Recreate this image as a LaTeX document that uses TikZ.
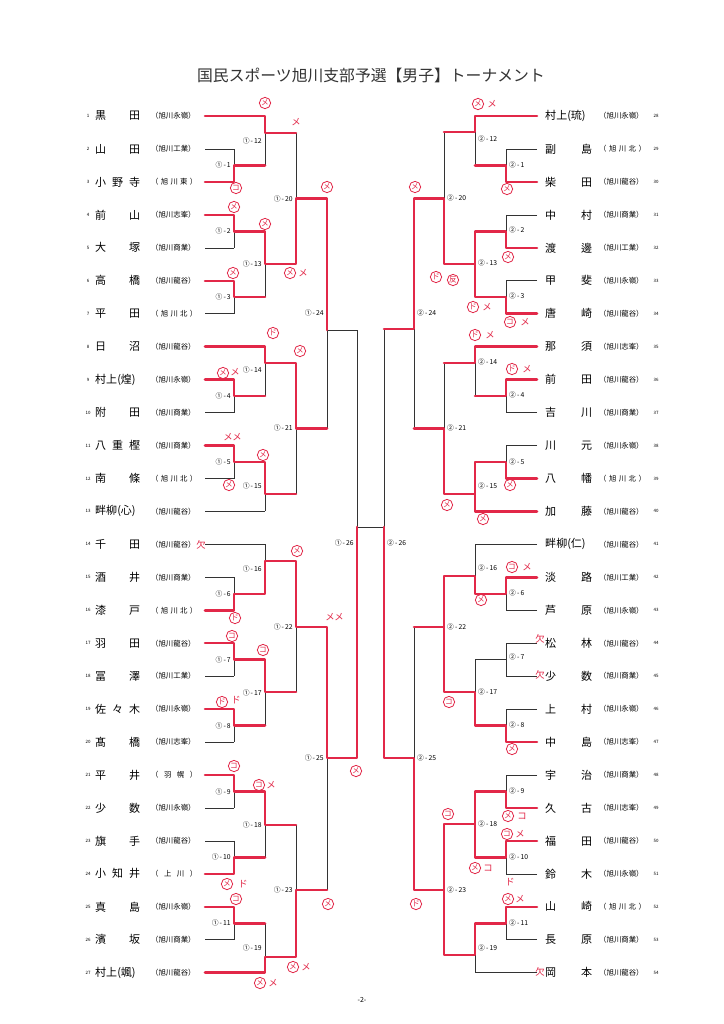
\documentclass[tikz,border=0pt]{standalone}
\usepackage{fontspec}
\setmainfont{Noto Sans CJK JP}
\usepackage{tikz}
\definecolor{pen}{RGB}{226,40,72}

\begin{document}
\begin{tikzpicture}[x=0.03cm, y=-0.03cm,
  wire/.style={line width=0.5pt, black!80},
  win/.style={line width=2.2pt, pen, line join=round, line cap=round},
  who/.style={font=\fontsize{9.4}{10}\selectfont, anchor=west, inner sep=0},
  school/.style={font=\fontsize{6.3}{7}\selectfont, anchor=west, inner sep=0},
  num/.style={font=\fontsize{3.8}{4}\selectfont, inner sep=0},
  game/.style={font=\fontsize{5.8}{6}\selectfont, inner sep=0},
  ring/.style={circle, draw=pen, line width=0.7pt, text=pen, minimum size=0.34cm, inner sep=0, font=\fontsize{6.5}{6.5}\selectfont},
  tick/.style={text=pen, inner sep=0, font=\fontsize{8}{8}\selectfont}]

\useasboundingbox (0,0) rectangle (724,1024);
\fill[white] (0,0) rectangle (724,1024);

% columns of the bracket
\def\lA{205}\def\lB{234}\def\lC{265}\def\lD{296}\def\lE{327}\def\lF{357}
\def\rA{537}\def\rB{506}\def\rC{475}\def\rD{444}\def\rE{414}\def\rF{384}

\node[font=\fontsize{13.5}{14}\selectfont, text=black!80] (title) at (371,75) {国民スポーツ旭川支部予選【男子】トーナメント};
\node[font=\fontsize{6}{6}\selectfont] (page) at (362,1000) {-2-};

% players, left
\foreach \nm/\sk [count=\i] in {黒\hfill 田/（旭川永嶺）, 山\hfill 田/（旭川工業）, 小\hfill 野\hfill 寺/（\hfill 旭\hfill 川\hfill 東\hfill ）, 前\hfill 山/（旭川志峯）, 大\hfill 塚/（旭川商業）, 高\hfill 橋/（旭川龍谷）, 平\hfill 田/（\hfill 旭\hfill 川\hfill 北\hfill ）, 日\hfill 沼/（旭川龍谷）, 村上(煌)/（旭川永嶺）, 附\hfill 田/（旭川商業）, 八\hfill 重\hfill 樫/（旭川商業）, 南\hfill 條/（\hfill 旭\hfill 川\hfill 北\hfill ）, 畔柳(心)/（旭川龍谷）, 千\hfill 田/（旭川龍谷）, 酒\hfill 井/（旭川商業）, 漆\hfill 戸/（\hfill 旭\hfill 川\hfill 北\hfill ）, 羽\hfill 田/（旭川龍谷）, 冨\hfill 澤/（旭川工業）, 佐\hfill 々\hfill 木/（旭川永嶺）, 髙\hfill 橋/（旭川志峯）, 平\hfill 井/（\hfill 羽\hfill 幌\hfill ）, 少\hfill 数/（旭川永嶺）, 旗\hfill 手/（旭川龍谷）, 小\hfill 知\hfill 井/（\hfill 上\hfill 川\hfill ）, 真\hfill 島/（旭川永嶺）, 濱\hfill 坂/（旭川商業）, 村上(颯)/（旭川龍谷）}{
  \node[num] (nl\i) at (88,{116+32.95*(\i-1)}) {\i};
  \node[who] (pl\i) at (95,{116+32.95*(\i-1)}) {\makebox[1.35cm][l]{\nm}};
  \node[school] (sl\i) at (151,{116+32.95*(\i-1)}) {\makebox[1.38cm][l]{\sk}};
}

% players, right
\foreach \nm/\sk [count=\i] in {村上(琉)/（旭川永嶺）, 副\hfill 島/（\hfill 旭\hfill 川\hfill 北\hfill ）, 柴\hfill 田/（旭川龍谷）, 中\hfill 村/（旭川商業）, 渡\hfill 邊/（旭川工業）, 甲\hfill 斐/（旭川永嶺）, 唐\hfill 崎/（旭川龍谷）, 那\hfill 須/（旭川志峯）, 前\hfill 田/（旭川龍谷）, 吉\hfill 川/（旭川商業）, 川\hfill 元/（旭川永嶺）, 八\hfill 幡/（\hfill 旭\hfill 川\hfill 北\hfill ）, 加\hfill 藤/（旭川龍谷）, 畔柳(仁)/（旭川龍谷）, 淡\hfill 路/（旭川工業）, 芦\hfill 原/（旭川永嶺）, 松\hfill 林/（旭川龍谷）, 少\hfill 数/（旭川商業）, 上\hfill 村/（旭川永嶺）, 中\hfill 島/（旭川志峯）, 宇\hfill 治/（旭川商業）, 久\hfill 古/（旭川志峯）, 福\hfill 田/（旭川龍谷）, 鈴\hfill 木/（旭川永嶺）, 山\hfill 崎/（\hfill 旭\hfill 川\hfill 北\hfill ）, 長\hfill 原/（旭川商業）, 岡\hfill 本/（旭川龍谷）}{
  \node[who] (pr\i) at (545,{116+32.95*(\i-1)}) {\makebox[1.41cm][l]{\nm}};
  \node[school] (sr\i) at (599,{116+32.95*(\i-1)}) {\makebox[1.4cm][l]{\sk}};
  \node[num] (nr\i) at (656,{116+32.95*(\i-1)}) {\the\numexpr\i+27\relax};
}

% entry lines
\foreach \i in {2,3,4,5,6,7,9,10,11,12,15,16,17,18,19,20,21,22,23,24,25,26}{
  \draw[wire] (\lA,{116+32.95*(\i-1)}) -- (\lB,{116+32.95*(\i-1)});
  \draw[wire] (\rA,{116+32.95*(\i-1)}) -- (\rB,{116+32.95*(\i-1)});
}
\foreach \i in {1,8,13,14,27}{
  \draw[wire] (\lA,{116+32.95*(\i-1)}) -- (\lC,{116+32.95*(\i-1)});
  \draw[wire] (\rA,{116+32.95*(\i-1)}) -- (\rC,{116+32.95*(\i-1)});
}

% matches: column / top / bottom / out / next column
\foreach \x/\a/\b/\o/\n in {\lB/149/181.9/165.4/\lC, \lB/214.9/247.8/231.3/\lC, \lB/280.8/313.7/297.2/\lC, \lB/379.6/412.6/396.1/\lC, \lB/445.5/478.5/462/\lC, \lB/577.3/610.3/593.8/\lC, \lB/643.2/676.2/659.7/\lC, \lB/709.1/742.1/725.6/\lC, \lB/775/808/791.5/\lC, \lB/840.9/873.9/857.4/\lC, \lB/906.8/939.8/923.3/\lC,
  \lC/116/165.4/133/\lD, \lC/231.3/297.2/264/\lD, \lC/346.7/396.1/363/\lD, \lC/462/511.4/494/\lD, \lC/544.4/593.8/561/\lD, \lC/659.7/725.6/692/\lD, \lC/791.5/857.4/825/\lD, \lC/923.3/972.7/957/\lD,
  \lD/133/264/198.5/\lE, \lD/363/494/428.5/\lE, \lD/561/692/627/\lE, \lD/825/957/890/\lE,
  \lE/198.5/428.5/330/\lF, \lE/627/890/758/\lF,
  \rB/149/181.9/165.4/\rC, \rB/214.9/247.8/231.3/\rC, \rB/280.8/313.7/297.2/\rC, \rB/379.6/412.6/396.1/\rC, \rB/445.5/478.5/462/\rC, \rB/577.3/610.3/593.8/\rC, \rB/643.2/676.2/659.7/\rC, \rB/709.1/742.1/725.6/\rC, \rB/775/808/791.5/\rC, \rB/840.9/873.9/857.4/\rC, \rB/906.8/939.8/923.3/\rC,
  \rC/116/165.4/132/\rD, \rC/231.3/297.2/264/\rD, \rC/346.7/396.1/363/\rD, \rC/462/511.4/494/\rD, \rC/544.4/593.8/576/\rD, \rC/659.7/725.6/692/\rD, \rC/791.5/857.4/824/\rD, \rC/923.3/972.7/955/\rD,
  \rD/132/264/198.5/\rE, \rD/363/494/428.5/\rE, \rD/576/692/627/\rE, \rD/824/955/890/\rE,
  \rE/198.5/428.5/329/\rF, \rE/627/890/758/\rF}{
  \draw[wire] (\x,\a) -- (\x,\b) (\x,\o) -- (\n,\o);
}
\draw[wire] (\lF,330) -- (\lF,758) (\rF,329) -- (\rF,758);
\draw[wire] (\lF,527) -- (\rF,527);

% match numbers
\foreach \x/\y/\t in {\lB/165.4/1, \lC/141/12, \lD/199/20, \lB/231.3/2, \lC/264/13, \lB/297.2/3, \lE/313/24, \lC/370/14, \lB/396/4, \lD/428/21, \lB/462/5, \lC/486/15, \lC/569/16, \lB/594/6, \lD/627/22, \lB/660/7, \lC/693/17, \lB/726/8, \lE/758/25, \lB/792/9, \lC/825/18, \lB/857/10, \lD/890/23, \lB/923/11, \lC/948/19, \lF/543/26}
  \node[game, anchor=east] (gl\t) at (\x-3,\y) {①\,-\,\t};
\foreach \x/\y/\t in {\rB/165/1, \rC/139/12, \rD/198/20, \rB/230/2, \rC/263/13, \rB/296/3, \rE/313/24, \rC/362/14, \rB/395/4, \rD/428/21, \rB/462/5, \rC/486/15, \rC/568/16, \rB/593/6, \rD/627/22, \rB/657/7, \rC/692/17, \rB/725/8, \rE/758/25, \rB/791/9, \rC/824/18, \rB/857/10, \rD/890/23, \rB/923/11, \rC/948/19, \rF/543/26}
  \node[game, anchor=west] (gr\t) at (\x+3,\y) {②\,-\,\t};

% winners, left
\draw[win] (\lA,116) -| (\lC,133) -- (\lD,133);
\draw[win] (\lA,181.9) -| (\lB,165.4) -- (\lC,165.4);
\draw[win] (\lA,214.9) -| (\lB,231.3) -| (\lC,264) -| (\lD,198.5) -| (\lE,330);
\draw[win] (\lA,280.8) -| (\lB,297.2) -- (\lC,297.2);
\draw[win] (\lA,346.7) -| (\lC,363) -| (\lD,428.5) -- (\lE,428.5);
\draw[win] (\lA,379.6) -| (\lB,396.1) -- (\lC,396.1);
\draw[win] (\lA,445.5) -| (\lB,462) -| (\lC,494) -- (\lD,494);
\draw[win] (\lA,610.3) -| (\lB,593.8) -| (\lC,561) -| (\lD,627) -| (\lE,758) -| (\lF,527);
\draw[win] (\lA,643.2) -| (\lB,659.7) -| (\lC,692) -- (\lD,692);
\draw[win] (\lA,709.1) -| (\lB,725.6) -- (\lC,725.6);
\draw[win] (\lA,775) -| (\lB,791.5) -| (\lC,825) -- (\lD,825);
\draw[win] (\lA,873.9) -| (\lB,857.4) -- (\lC,857.4);
\draw[win] (\lA,906.8) -| (\lB,923.3) -- (\lC,923.3);
\draw[win] (\lA,972.7) -| (\lC,957) -| (\lD,890) -- (\lE,890);

% winners, right
\draw[win] (\rA,116) -| (\rC,132) -- (\rD,132);
\draw[win] (\rA,181.9) -| (\rB,165.4) -- (\rC,165.4);
\draw[win] (\rA,247.8) -| (\rB,231.3) -| (\rC,264) -| (\rD,198.5) -| (\rE,329) -- (\rF,329);
\draw[win] (\rA,313.7) -| (\rB,297.2) -| (\rC,264);
\draw[win] (\rA,346.7) -| (\rC,363) -- (\rD,363);
\draw[win] (\rA,379.6) -| (\rB,396.1) -- (\rC,396.1);
\draw[win] (\rA,478.5) -| (\rB,462) -| (\rC,494);
\draw[win] (\rA,511.4) -| (\rC,494) -| (\rD,428.5) -- (\rE,428.5);
\draw[win] (\rA,577.3) -| (\rB,593.8) -| (\rC,576) -| (\rD,627) -- (\rE,627);
\draw[win] (\rA,742.1) -| (\rB,725.6) -| (\rC,692) -| (\rD,627);
\draw[win] (\rA,808) -| (\rB,791.5) -| (\rC,824) -| (\rD,890) -| (\rE,758) -| (\rF,527);
\draw[win] (\rA,840.9) -| (\rB,857.4) -| (\rC,824);
\draw[win] (\rA,906.8) -| (\rB,923.3) -| (\rC,955) -| (\rD,890);

% handwritten marks
\foreach \x/\y/\t/\s [count=\k] in {265/103/メ/ring, 296/122/メ/tick, 236/188/コ/ring, 234/207/メ/ring, 265/224/メ/ring, 290/273/メ/ring, 303/273/メ/tick, 233/273/メ/ring, 327/187/メ/ring,
  273/333/ド/ring, 300/351/メ/ring, 223/373/メ/ring, 235/372/メ/tick, 228/437/メ/tick, 237/437/メ/tick, 263/455/メ/ring, 229/485/メ/ring,
  201/545/欠/tick, 297/551/メ/ring, 235/618/ド/ring, 232/636/コ/ring, 263/650/コ/ring, 222/702/ド/ring, 236/700/ド/tick, 330/617/メ/tick, 339/617/メ/tick,
  356/771/メ/ring, 328/904/メ/ring, 234/766/コ/ring, 259/785/コ/ring, 271/785/メ/tick, 227/884/メ/ring, 243/884/ド/tick, 236/899/コ/ring, 293/967/メ/ring, 306/967/メ/tick, 260/983/メ/ring, 273/983/メ/tick,
  478/104/メ/ring, 492/104/メ/tick, 507/189/メ/ring, 415/187/メ/ring, 508/257/メ/ring, 436/277/ド/ring, 453/280/反/ring, 473/307/ド/ring, 487/307/メ/tick, 510/322/コ/ring, 525/322/メ/tick,
  475/335/ド/ring, 490/335/メ/tick, 512/369/ド/ring, 527/369/メ/tick, 510/485/メ/ring, 447/505/メ/ring, 483/519/メ/ring, 512/567/コ/ring, 527/567/メ/tick, 481/600/メ/ring,
  540/639/欠/tick, 540/675/欠/tick, 449/702/コ/ring, 512/749/メ/ring, 508/816/メ/ring, 522/816/コ/tick, 507/834/コ/ring, 520/834/メ/tick, 475/868/メ/ring, 488/868/コ/tick,
  510/882/ド/tick, 508/899/メ/ring, 520/899/メ/tick, 448/814/コ/ring, 416/904/ド/ring, 540/972/欠/tick}
  \node[\s] (mk\k) at (\x,\y) {\t};

\end{tikzpicture}
\end{document}
